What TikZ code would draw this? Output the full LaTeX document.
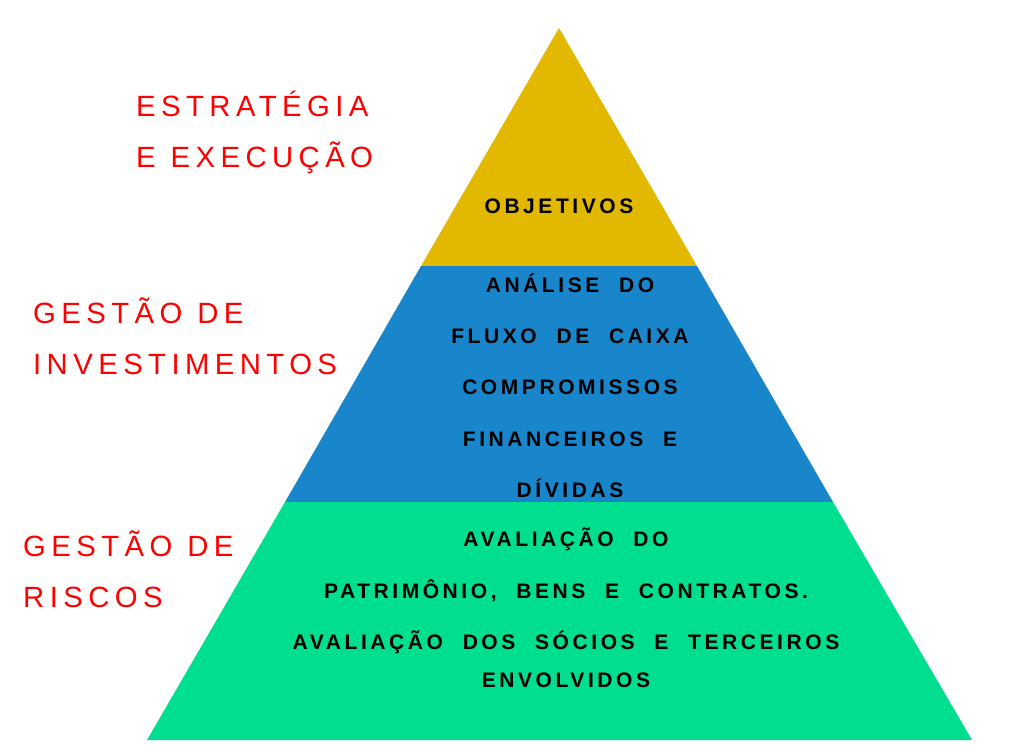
\documentclass[tikz,border=0pt]{standalone}
\usepackage{fontspec}
\setmainfont{Liberation Sans}
\newfontfamily\labfont[LetterSpace=18.5,WordSpace=1.1]{Liberation Sans}
\newfontfamily\itemfont[LetterSpace=17,WordSpace=2.1]{Liberation Sans}
\definecolor{topgold}{RGB}{227,184,0}
\definecolor{midblue}{RGB}{25,133,202}
\definecolor{basegreen}{RGB}{0,223,143}
\definecolor{labred}{RGB}{255,0,0}
\begin{document}
\begin{tikzpicture}[x=1pt, y=-1pt,
  lab/.style={anchor=base west, inner sep=0, text=labred, font=\labfont\fontsize{29.3}{35}\selectfont},
  item/.style={anchor=base, inner sep=0, font=\itemfont\bfseries\fontsize{21}{25}\selectfont}]
\useasboundingbox (0,0) rectangle (1012,747);
% pyramid
\coordinate (apex) at (559,28);
\coordinate (l1) at (421,266);  \coordinate (r1) at (697,266);
\coordinate (l2) at (285,502);  \coordinate (r2) at (833,502);
\coordinate (l3) at (147,740);  \coordinate (r3) at (972,740);
\fill[topgold](apex)--(r1)--(l1)--cycle;
\fill[midblue](l1)--(r1)--(r2)--(l2)--cycle;
\fill[basegreen](l2)--(r2)--(r3)--(l3)--cycle;
% levels
\node[item] (obj) at (559,213) {OBJETIVOS};
\node[item] (b1) at (570,292) {ANÁLISE DO};
\node[item] (b2) at (570,343) {FLUXO DE CAIXA};
\node[item] (b3) at (570,394) {COMPROMISSOS};
\node[item] (b4) at (570,446) {FINANCEIROS E};
\node[item] (b5) at (570,497) {DÍVIDAS};
\node[item] (g1) at (566,546) {AVALIAÇÃO DO};
\node[item] (g2) at (566,598) {PATRIMÔNIO, BENS E CONTRATOS.};
\node[item] (g3) at (566,649) {AVALIAÇÃO DOS SÓCIOS E TERCEIROS};
\node[item] (g4) at (566,687) {ENVOLVIDOS};
% side labels
\node[lab] (est) at (136,116) {ESTRATÉGIA};
\node[lab] (exe) at (136,167) {E EXECUÇÃO};
\node[lab] (gi1) at (33,323) {GESTÃO DE};
\node[lab] (gi2) at (33,374) {INVESTIMENTOS};
\node[lab] (gr1) at (23,556) {GESTÃO DE};
\node[lab] (gr2) at (23,607) {RISCOS};
\end{tikzpicture}
\end{document}
